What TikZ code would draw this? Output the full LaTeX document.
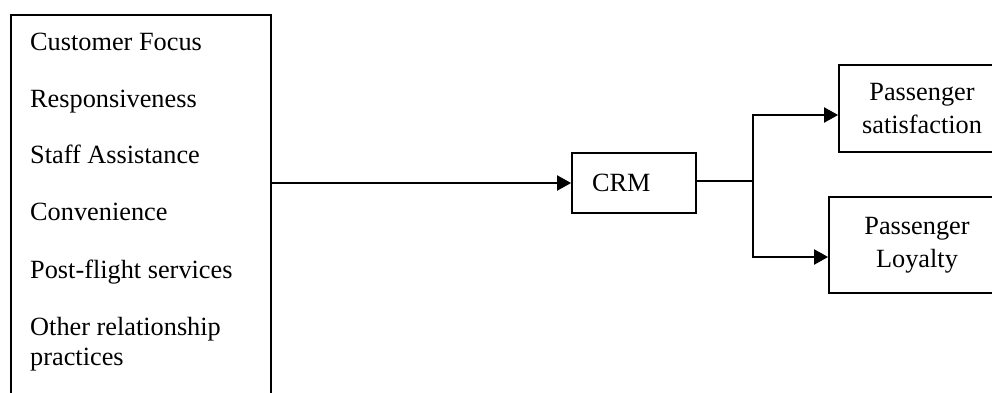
\documentclass[tikz,border=0pt]{standalone}
\usepackage{fontspec}
\setmainfont{Liberation Serif}
\usetikzlibrary{arrows.meta}

\begin{document}
\begin{tikzpicture}[x=1pt,y=-1pt,
  box/.style={draw,line width=1.8pt,rectangle,inner sep=0pt},
  txt/.style={font=\fontsize{26.3}{33}\selectfont,inner sep=0pt},
  flow/.style={line width=2pt,-{Triangle[length=14pt,width=15pt]}}]
  \useasboundingbox (0,0) rectangle (992,392);
  \clip (0,0) rectangle (992,392);
  % factor list (box runs past the bottom edge)
  \node[box,anchor=north west,minimum width=260pt,minimum height=420pt] (factors) at (10,14) {};
  \foreach \yy/\txt [count=\i] in {50/Customer Focus,107/Responsiveness,163/Staff Assistance,220/Convenience,278/Post-flight services,335/Other relationship,365/practices}
    \node[txt,anchor=base west] (item\i) at (30,\yy) {\txt};
  \node[box,txt,minimum width=124pt,minimum height=60pt,text width=84pt,inner xsep=20pt] (crm) at (634,183) {CRM};
  % outcomes (boxes run past the right edge)
  \node[box,txt,align=center,minimum width=166pt,minimum height=87pt] (sat) at (922,108.5) {Passenger\\satisfaction};
  \node[box,txt,align=center,minimum width=176pt,minimum height=96pt] (loy) at (917,245) {Passenger\\Loyalty};
  \coordinate (split) at (753,181);
  \draw[flow] (factors.east |- crm.west) -- (crm.west);
  \draw[line width=1.3pt] (crm.east |- split) -- (split);
  \draw[flow] (split) |- ([yshift=-6.5pt]sat.west);
  \draw[flow] (split) |- ([yshift=-12pt]loy.west);
\end{tikzpicture}
\end{document}
